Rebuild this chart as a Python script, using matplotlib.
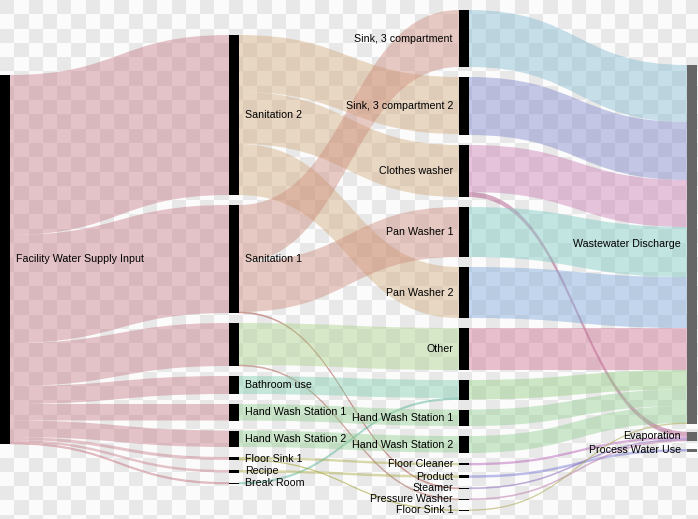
import numpy as np
import matplotlib
matplotlib.use("Agg")
import matplotlib.pyplot as plt
from matplotlib.path import Path
from matplotlib.patches import PathPatch, Rectangle

# ---------------- data ----------------
node_ids = ["supply",
            "san2", "san1", "other_a", "bath_a", "hws1_a", "hws2_a", "fs1_a", "recipe", "break",
            "sink3", "sink3b", "clothes", "pan1", "pan2", "other_b", "bath_b", "hws1_b", "hws2_b",
            "floorcl", "product", "steamer", "pressure", "fs1_b",
            "waste", "evap", "process"]
node_labels = ["Facility Water Supply Input",
               "Sanitation 2", "Sanitation 1", "", "Bathroom use", "Hand Wash Station 1",
               "Hand Wash Station 2", "Floor Sink 1", "Recipe", "Break Room",
               "Sink, 3 compartment", "Sink, 3 compartment 2", "Clothes washer", "Pan Washer 1",
               "Pan Washer 2", "Other", "", "Hand Wash Station 1", "Hand Wash Station 2",
               "Floor Cleaner", "Product", "Steamer", "Pressure Washer", "Floor Sink 1",
               "Wastewater Discharge", "Evaporation", "Process Water Use"]
node_columns = [0,
                1, 1, 1, 1, 1, 1, 1, 1, 1,
                2, 2, 2, 2, 2, 2, 2, 2, 2, 2, 2, 2, 2, 2,
                3, 3, 3]

link_sources = ["supply", "supply", "supply", "supply", "supply", "supply", "supply", "supply", "supply",
                "san2", "san2", "san2",
                "san1", "san1", "san1",
                "other_a", "other_a",
                "bath_a", "break", "hws1_a", "hws2_a",
                "fs1_a", "fs1_a", "recipe",
                "sink3", "sink3b", "clothes", "clothes", "pan1", "pan2", "other_b",
                "bath_b", "hws1_b", "hws2_b",
                "floorcl", "product", "steamer", "pressure", "fs1_b"]
link_targets = ["san2", "san1", "other_a", "bath_a", "hws1_a", "hws2_a", "fs1_a", "recipe", "break",
                "sink3b", "clothes", "pan2",
                "sink3", "pan1", "steamer",
                "other_b", "pressure",
                "bath_b", "bath_b", "hws1_b", "hws2_b",
                "floorcl", "fs1_b", "product",
                "waste", "waste", "waste", "evap", "waste", "waste", "waste",
                "waste", "waste", "waste",
                "evap", "process", "evap", "evap", "waste"]
link_values = [160, 108, 43, 18, 16.5, 16.5, 3, 2.5, 1.5,
               57, 52, 51,
               57, 50, 1,
               42, 1,
               18, 1.5, 16.5, 16.5,
               2.3, 0.7, 2.5,
               57, 58, 47, 5, 50, 51, 42,
               19.5, 16.5, 17,
               2.3, 2.5, 1, 1, 0.7]
link_colors = ["#c77985"] * 9 + \
              ["#d1a979"] * 3 + \
              ["#cd8979", "#cd8979", "#b05a50"] + \
              ["#a9d189", "#b07060"] + \
              ["#7fcdad", "#5fb8a0", "#91cd91", "#91cd91"] + \
              ["#a9a941", "#a9a941", "#a9a941"] + \
              ["#81b9cd", "#7981c9", "#c979b1", "#a8407a", "#79c9c1", "#79a5d9", "#cd7191"] + \
              ["#91cd81", "#91cd91", "#91cd91"] + \
              ["#b050b0", "#6a6ad0", "#9070c0", "#c080b0", "#b0b060"]

# ---------------- layout settings ----------------
W, H = 698, 519
col_x = [0, 229, 459, 687]
col_top = [75, 35, 10, 65]
col_pad = [10, 10, 10, 8]
node_w = 10
node_colors = ["#000000", "#000000", "#000000", "#666666"]

idx = {n: i for i, n in enumerate(node_ids)}
n_nodes = len(node_ids)
val_in = np.zeros(n_nodes)
val_out = np.zeros(n_nodes)
for s, t, v in zip(link_sources, link_targets, link_values):
    val_out[idx[s]] += v
    val_in[idx[t]] += v
node_val = np.maximum(val_in, val_out)

node_y0 = np.zeros(n_nodes)
for c in range(4):
    y = col_top[c]
    for i in range(n_nodes):
        if node_columns[i] == c:
            node_y0[i] = y
            y += node_val[i] + col_pad[c]

# link offsets (d3-sankey style ordering)
n_links = len(link_values)
src_off = np.zeros(n_links)
tgt_off = np.zeros(n_links)
for i in range(n_nodes):
    outs = [k for k in range(n_links) if idx[link_sources[k]] == i]
    outs.sort(key=lambda k: node_y0[idx[link_targets[k]]])
    y = node_y0[i]
    for k in outs:
        src_off[k] = y
        y += link_values[k]
    ins = [k for k in range(n_links) if idx[link_targets[k]] == i]
    ins.sort(key=lambda k: node_y0[idx[link_sources[k]]])
    y = node_y0[i]
    for k in ins:
        tgt_off[k] = y
        y += link_values[k]

# ---------------- drawing ----------------
fig = plt.figure(figsize=(W / 100, H / 100), dpi=100)
ax = fig.add_axes([0, 0, 1, 1])
ax.axis("off")

# checkerboard background
sq = 14.3
nr, nc = int(np.ceil(H / sq)) + 1, int(np.ceil(W / sq)) + 1
chk = (np.add.outer(np.arange(nr), np.arange(nc)) % 2).astype(float)
ax.imshow(chk, cmap=matplotlib.colors.ListedColormap(["#e8e8e8", "#fbfbfb"]),
          extent=[0, nc * sq, nr * sq, 0], interpolation="nearest", zorder=0, aspect="auto")
ax.set_xlim(0, W)
ax.set_ylim(H, 0)

for k in range(n_links):
    s, t = idx[link_sources[k]], idx[link_targets[k]]
    xs = col_x[node_columns[s]] + node_w
    xt = col_x[node_columns[t]]
    xm = (xs + xt) / 2
    w = link_values[k]
    sy, ty = src_off[k], tgt_off[k]
    verts = [(xs, sy), (xm, sy), (xm, ty), (xt, ty),
             (xt, ty + w),
             (xm, ty + w), (xm, sy + w), (xs, sy + w),
             (xs, sy)]
    codes = [Path.MOVETO, Path.CURVE4, Path.CURVE4, Path.CURVE4,
             Path.LINETO,
             Path.CURVE4, Path.CURVE4, Path.CURVE4,
             Path.CLOSEPOLY]
    lw = 0.5 if w < 2 else 0
    ax.add_patch(PathPatch(Path(verts, codes), facecolor=link_colors[k], edgecolor=link_colors[k],
                           linewidth=lw, alpha=0.43, zorder=2))

for i in range(n_nodes):
    c = node_columns[i]
    ax.add_patch(Rectangle((col_x[c], node_y0[i]), node_w, max(node_val[i], 1.0),
                           facecolor=node_colors[c], edgecolor="none", zorder=3))
    if node_labels[i]:
        yc = node_y0[i] + node_val[i] / 2
        if c < 2:
            ax.text(col_x[c] + node_w + 6, yc, node_labels[i], ha="left", va="center",
                    fontsize=7.7, family="Liberation Sans", color="#000000", zorder=4)
        else:
            ax.text(col_x[c] - 6, yc, node_labels[i], ha="right", va="center",
                    fontsize=7.7, family="Liberation Sans", color="#000000", zorder=4)

fig.savefig("out.png", dpi=100)
